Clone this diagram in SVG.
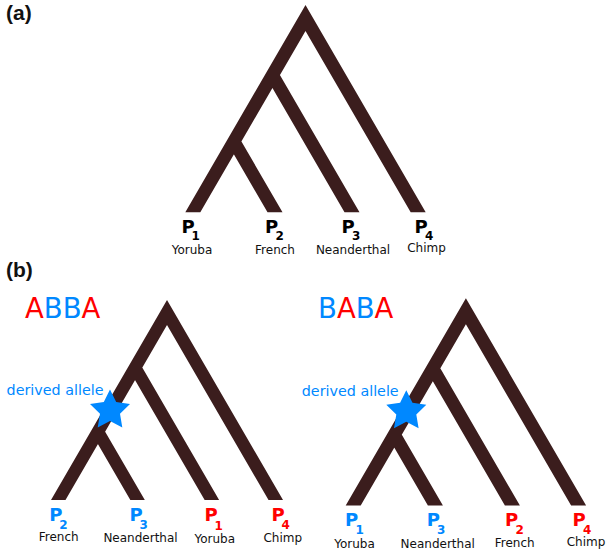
<svg xmlns="http://www.w3.org/2000/svg" xmlns:xlink="http://www.w3.org/1999/xlink" width="606" height="551" viewBox="0 0 606 551">
<style>
.br{fill:#3b1d1d}
.p{font-family:"DejaVu Sans",sans-serif;font-weight:bold;font-size:18px}
.sub{font-size:12px}
.name{font-family:"DejaVu Sans",sans-serif;font-size:12px;fill:#111;text-anchor:middle}
.blue{fill:#0088ff}
.red{fill:#ff0000}
.big{font-family:"DejaVu Sans",sans-serif;font-size:27.5px}
.da{font-family:"DejaVu Sans",sans-serif;font-size:14.3px;fill:#0088ff}
.panel{font-family:"Liberation Sans",Arial,sans-serif;font-weight:bold;font-size:21px;fill:#111}
.star{fill:#0088ff}
</style>
<defs>
<path id="tree" class="br" d="M185.3,212.3 L305.5,5 L425.7,212.3 L410.7,212.3 L305.5,30.9 L200.3,212.3 Z M277,70 L359.5,212.3 L344.5,212.3 L267.8,80 Z M238.25,136 L282.5,212.3 L267.5,212.3 L229.05,146 Z"/>
<polygon id="star" points="0,-21 6.2,-8.5 20,-6.5 10,3.3 12.3,17 0,10.5 -12.3,17 -10,3.3 -20,-6.5 -6.2,-8.5"/>
</defs>

<text class="panel" x="6" y="20">(a)</text>
<text class="panel" x="6" y="277">(b)</text>

<g id="connectors">
<use xlink:href="#tree" href="#tree"/>
<use xlink:href="#tree" href="#tree" transform="matrix(0.965,0,0,0.965,-127.8,295.2)"/>
<use xlink:href="#tree" href="#tree" transform="translate(160.4,293.3)"/>
</g>

<!-- panel a labels -->
<g id="a-p1"><text class="p" x="181.5" y="233">P<tspan class="sub" x="191.5" y="240">1</tspan></text><text class="name" x="192" y="254">Yoruba</text></g>
<g id="a-p2"><text class="p" x="265" y="233">P<tspan class="sub" x="275.5" y="240">2</tspan></text><text class="name" x="275" y="254">French</text></g>
<g id="a-p3"><text class="p" x="341.5" y="233">P<tspan class="sub" x="352" y="240">3</tspan></text><text class="name" x="353" y="253.5">Neanderthal</text></g>
<g id="a-p4"><text class="p" x="414.5" y="233">P<tspan class="sub" x="425" y="240">4</tspan></text><text class="name" x="426.5" y="251.5">Chimp</text></g>

<!-- panel b left -->
<g id="abba-title"><text class="big" x="25" y="318.3"><tspan class="red">A</tspan><tspan class="blue">BB</tspan><tspan class="red">A</tspan></text></g>
<g id="abba-allele"><text class="da" x="6.6" y="395">derived allele</text><use xlink:href="#star" href="#star" class="star" transform="translate(110,410.5)"/></g>
<g id="b1-p2"><text class="p blue" x="49.3" y="520.5">P<tspan class="sub" x="59.3" y="529">2</tspan></text><text class="name" x="58.7" y="541">French</text></g>
<g id="b1-p3"><text class="p blue" x="129.5" y="520.5">P<tspan class="sub" x="139.5" y="529">3</tspan></text><text class="name" x="140.5" y="541.5">Neanderthal</text></g>
<g id="b1-p1"><text class="p red" x="204.5" y="521">P<tspan class="sub" x="214.5" y="529.5">1</tspan></text><text class="name" x="214.7" y="543.3">Yoruba</text></g>
<g id="b1-p4"><text class="p red" x="271.5" y="520.5">P<tspan class="sub" x="281.5" y="529">4</tspan></text><text class="name" x="282.8" y="542.3">Chimp</text></g>

<!-- panel b right -->
<g id="baba-title"><text class="big" x="318" y="318.3"><tspan class="blue">B</tspan><tspan class="red">A</tspan><tspan class="blue">B</tspan><tspan class="red">A</tspan></text></g>
<g id="baba-allele"><text class="da" x="301.8" y="396">derived allele</text><use xlink:href="#star" href="#star" class="star" transform="translate(406.3,411.3)"/></g>
<g id="b2-p1"><text class="p blue" x="345" y="525.5">P<tspan class="sub" x="355.5" y="534">1</tspan></text><text class="name" x="354.5" y="548">Yoruba</text></g>
<g id="b2-p3"><text class="p blue" x="426.7" y="525.5">P<tspan class="sub" x="437" y="534">3</tspan></text><text class="name" x="437.7" y="547.7">Neanderthal</text></g>
<g id="b2-p2"><text class="p red" x="505.1" y="525.5">P<tspan class="sub" x="515.5" y="534">2</tspan></text><text class="name" x="514.7" y="546.7">French</text></g>
<g id="b2-p4"><text class="p red" x="572.4" y="525.5">P<tspan class="sub" x="583" y="534">4</tspan></text><text class="name" x="586" y="546">Chimp</text></g>
</svg>
